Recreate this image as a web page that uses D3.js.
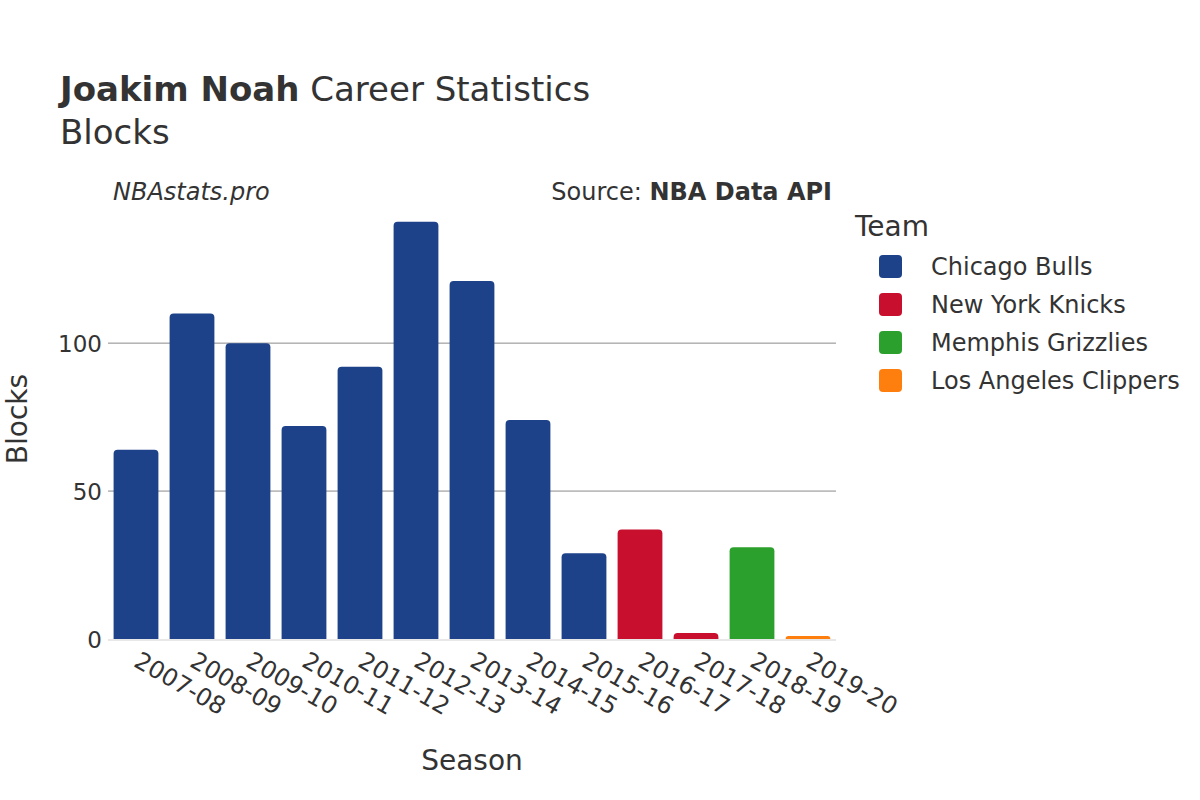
<!DOCTYPE html>
<html><head><meta charset="utf-8">
<script src="https://cdn.jsdelivr.net/npm/d3@7"></script>
<style>body{margin:0;background:#fff;} text{font-family:"DejaVu Sans",sans-serif;}</style>
</head><body>
<svg id="chart" width="1200" height="800"></svg>
<script>
const seasons = ["2007-08","2008-09","2009-10","2010-11","2011-12","2012-13","2013-14","2014-15","2015-16","2016-17","2017-18","2018-19","2019-20"];
const blocks = [64,110,100,72,92,141,121,74,29,37,2,31,1];
const teams = ["Chicago Bulls","Chicago Bulls","Chicago Bulls","Chicago Bulls","Chicago Bulls","Chicago Bulls","Chicago Bulls","Chicago Bulls","Chicago Bulls","New York Knicks","New York Knicks","Memphis Grizzlies","Los Angeles Clippers"];
const legendTeams = ["Chicago Bulls","New York Knicks","Memphis Grizzlies","Los Angeles Clippers"];
const teamColors = ["#1d4289","#c8102e","#2ca02c","#ff7f0e"];
const yTicks = [0,50,100];

const svg = d3.select("#chart");
const x = d3.scaleBand().domain(seasons).range([108,836]).paddingInner(0.2).paddingOuter(0.1);
const y = d3.scaleLinear().domain([0,145]).range([639,210]);
const color = d3.scaleOrdinal().domain(legendTeams).range(teamColors);

// gridlines
svg.append("g").selectAll("line").data(yTicks.filter(d=>d>0)).join("line")
  .attr("x1",108).attr("x2",836).attr("y1",d=>y(d)).attr("y2",d=>y(d))
  .attr("stroke","#8a8a8a").attr("stroke-width",1);

// bars
const r = 4;
svg.append("g").selectAll("path").data(seasons).join("path")
  .attr("fill",(d,i)=>color(teams[i]))
  .attr("d",(d,i)=>{
    const x0=x(d), w=x.bandwidth(), y0=y(blocks[i]), y1=y(0);
    const rr=Math.min(r,(y1-y0), w/2);
    return `M${x0},${y1}V${y0+rr}Q${x0},${y0} ${x0+rr},${y0}H${x0+w-rr}Q${x0+w},${y0} ${x0+w},${y0+rr}V${y1}Z`;
  });

// zero line
svg.append("line").attr("x1",108).attr("x2",836).attr("y1",y(0)+1).attr("y2",y(0)+1)
  .attr("stroke","#e8e8e8").attr("stroke-width",2);

// y axis
const yAxis = d3.axisLeft(y).tickValues(yTicks).tickSize(0).tickPadding(4);
const gy = svg.append("g").attr("transform","translate(106,0)").call(yAxis);
gy.select(".domain").remove();
gy.selectAll("text").attr("font-size",23).attr("fill","#333").attr("font-family","DejaVu Sans").attr("dy","0.35em");

// x axis
const xAxis = d3.axisBottom(x).tickSize(0).tickPadding(0);
const gx = svg.append("g").attr("transform","translate(0,651)").call(xAxis);
gx.select(".domain").remove();
gx.selectAll("text").attr("font-size",24).attr("fill","#333").attr("font-family","DejaVu Sans")
  .attr("text-anchor","start").attr("dy","0.7em")
  .attr("transform","translate(5,0) rotate(30)");

// titles
const t = svg.append("text").attr("x",60).attr("y",101).attr("font-size",34).attr("fill","#333");
t.append("tspan").attr("font-weight","bold").text("Joakim Noah");
t.append("tspan").text(" Career Statistics");
svg.append("text").attr("x",60).attr("y",144).attr("font-size",34).attr("fill","#333").text("Blocks");

svg.append("text").attr("x",113).attr("y",200).attr("font-size",24).attr("font-style","italic").attr("fill","#333").text("NBAstats.pro");
const s = svg.append("text").attr("x",832).attr("y",200).attr("font-size",24).attr("text-anchor","end").attr("fill","#333");
s.append("tspan").text("Source: ");
s.append("tspan").attr("font-weight","bold").text("NBA Data API");

svg.append("text").attr("x",472).attr("y",770).attr("font-size",28).attr("text-anchor","middle").attr("fill","#333").text("Season");
svg.append("text").attr("transform","translate(27,419) rotate(-90)").attr("font-size",28).attr("text-anchor","middle").attr("fill","#333").text("Blocks");

// legend
svg.append("text").attr("x",855).attr("y",236).attr("font-size",28).attr("fill","#333").text("Team");
const lg = svg.append("g").selectAll("g").data(legendTeams).join("g")
  .attr("transform",(d,i)=>`translate(0,${266+i*38})`);
lg.append("rect").attr("x",879).attr("y",-11).attr("width",23).attr("height",23).attr("rx",4).attr("fill",d=>color(d));
lg.append("text").attr("x",931).attr("y",1).attr("dy","0.35em").attr("font-size",24).attr("fill","#333").text(d=>d);
</script>
</body></html>
